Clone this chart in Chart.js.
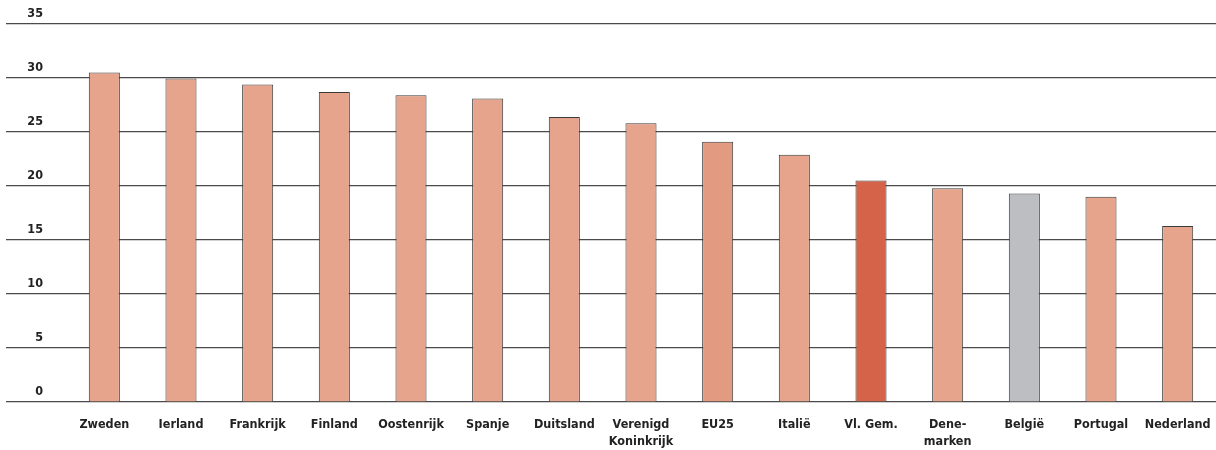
<!DOCTYPE html>
<html>
<head>
<meta charset="utf-8">
<script src="https://cdn.jsdelivr.net/npm/chart.js@4/dist/chart.umd.min.js"></script>
<style>
  html, body { margin: 0; padding: 0; background: #fff; }
  #wrap { width: 1216px; height: 450px; position: relative; }
</style>
</head>
<body>
<div id="wrap"><canvas id="c"></canvas></div>
<script>
const categories = ['Zweden', 'Ierland', 'Frankrijk', 'Finland', 'Oostenrijk', 'Spanje', 'Duitsland',
  ['Verenigd', 'Koninkrijk'], 'EU25', 'Italië', 'Vl. Gem.', ['Dene-', 'marken'], 'België', 'Portugal', 'Nederland'];
const values = [30.5, 29.95, 29.4, 28.7, 28.4, 28.1, 26.4, 25.8, 24.1, 22.9, 20.5, 19.8, 19.3, 19.0, 16.3];
const barColors = ['#E6A48D', '#E6A48D', '#E6A48D', '#E6A48D', '#E6A48D', '#E6A48D', '#E6A48D', '#E6A48D',
  '#E29A80', '#E6A48D', '#D4634A', '#E6A48D', '#BDBEC1', '#E6A48D', '#E6A48D'];
const yTicks = { min: 0, max: 35, step: 5 };

const FONT = "'DejaVu Sans Condensed', 'Roboto Condensed', 'Arial Narrow', 'Liberation Sans', Arial, sans-serif";

new Chart(document.getElementById('c'), {
  type: 'bar',
  data: {
    labels: categories,
    datasets: [{
      data: values,
      backgroundColor: barColors,
      borderColor: '#3a3a3a',
      borderWidth: 1,
      barPercentage: 0.405,
      categoryPercentage: 1.0
    }]
  },
  options: {
    responsive: true,
    maintainAspectRatio: false,
    animation: false,
    layout: { padding: { left: 6, right: 0, top: 24, bottom: 0 } },
    plugins: { legend: { display: false }, tooltip: { enabled: false } },
    scales: {
      x: {
        afterFit: (s) => { s.height = 48; s.paddingLeft = 0; s.paddingRight = 0; },
        grid: { display: false, drawTicks: false, tickLength: 0 },
        border: { display: false },
        ticks: {
          color: '#222',
          font: { family: FONT, weight: 'bold', size: 12.5, lineHeight: 1.35 },
          padding: 14,
          maxRotation: 0,
          autoSkip: false
        }
      },
      y: {
        min: yTicks.min,
        max: yTicks.max,
        afterFit: (s) => { s.width = 60; },
        border: { display: false },
        grid: { color: '#4a4a4a', lineWidth: 1.2, drawTicks: true, tickLength: 60 },
        ticks: {
          stepSize: yTicks.step,
          color: '#222',
          font: { family: FONT, weight: 'bold', size: 12.5 },
          padding: -37,
          labelOffset: -10,
          crossAlign: 'near'
        }
      }
    }
  }
});
</script>
</body>
</html>
